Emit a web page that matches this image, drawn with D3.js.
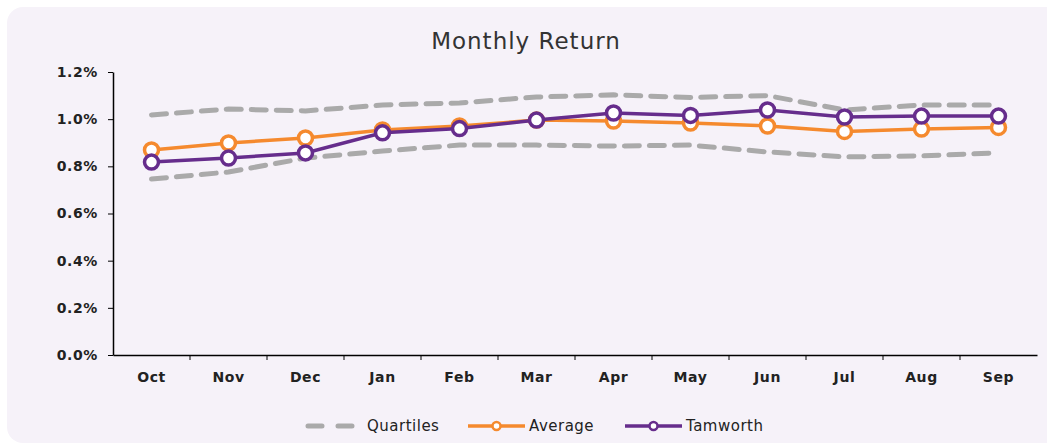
<!DOCTYPE html>
<html>
<head>
<meta charset="utf-8">
<script src="https://cdn.jsdelivr.net/npm/d3@7"></script>
<style>
  body { margin: 0; background: #fff; }
  svg { display: block; }
  text { font-family: "DejaVu Sans", Verdana, sans-serif; }
</style>
</head>
<body>
<svg id="chart" width="1047" height="445"></svg>
<script>
// months and values (monthly return, %)
const months = ['Oct', 'Nov', 'Dec', 'Jan', 'Feb', 'Mar', 'Apr', 'May', 'Jun', 'Jul', 'Aug', 'Sep']
const upperQuartile = [1.018, 1.043, 1.035, 1.06, 1.069, 1.094, 1.103, 1.092, 1.10, 1.039, 1.06, 1.06]
const lowerQuartile = [0.746, 0.776, 0.835, 0.865, 0.89, 0.89, 0.886, 0.89, 0.861, 0.84, 0.844, 0.857]
const average = [0.869, 0.899, 0.92, 0.954, 0.971, 0.996, 0.992, 0.984, 0.971, 0.948, 0.958, 0.965]
const tamworth = [0.818, 0.835, 0.857, 0.942, 0.96, 0.996, 1.026, 1.016, 1.039, 1.009, 1.013, 1.013]
const yTicks = [0, 0.2, 0.4, 0.6, 0.8, 1.0, 1.2]

const svg = d3.select('#chart')

// panel background
svg.append('rect')
  .attr('x', 7).attr('y', 7)
  .attr('width', 1060).attr('height', 436)
  .attr('rx', 16)
  .style('fill', '#f6f2f9')

svg.append('text')
  .attr('x', 526).attr('y', 49)
  .attr('text-anchor', 'middle')
  .style('font-size', '23px')
  .style('letter-spacing', '1px')
  .style('fill', '#333')
  .text('Monthly Return')

const x = d3.scaleBand().domain(months).range([113, 1037])
const y = d3.scaleLinear().domain([0, 1.2]).range([355, 72])
const cx = m => x(m) + x.bandwidth() / 2

// y axis
const yAxis = svg.append('g')
  .attr('transform', 'translate(113,0)')
  .call(d3.axisLeft(y).tickValues(yTicks).tickFormat(d => d.toFixed(1) + '%').tickSize(5).tickSizeOuter(0))
yAxis.select('.domain').style('stroke', '#000').style('stroke-width', 1.5)
yAxis.selectAll('.tick line').style('stroke', '#000')
yAxis.selectAll('text')
  .attr('x', -15)
  .style('font-size', '14px').style('font-weight', 'bold')
  .style('letter-spacing', '0.6px').style('fill', '#222')

// x axis, ticks on category boundaries
const xAxis = svg.append('g')
  .attr('transform', 'translate(0,355)')
  .call(d3.axisBottom(x).tickSize(0).tickSizeOuter(0))
xAxis.select('.domain').style('stroke', '#000').style('stroke-width', 1.5)
xAxis.selectAll('text')
  .attr('y', 17)
  .style('font-size', '14px').style('font-weight', 'bold')
  .style('letter-spacing', '0.6px').style('fill', '#222')
xAxis.selectAll('.boundary')
  .data(months.slice(1))
  .join('line')
  .attr('x1', d => x(d)).attr('x2', d => x(d))
  .attr('y1', 0).attr('y2', 5)
  .style('stroke', '#000')

const line = d3.line()
  .x((d, i) => cx(months[i]))
  .y(d => y(d))

// quartile bands
;[upperQuartile, lowerQuartile].forEach(q => {
  svg.append('path')
    .datum(q)
    .attr('d', line)
    .style('fill', 'none')
    .style('stroke', '#aaaaaa')
    .style('stroke-width', 5)
    .style('stroke-dasharray', '15 10')
    .style('stroke-linecap', 'round')
})

const series = [
  { name: 'Average', values: average, color: '#f58a2e' },
  { name: 'Tamworth', values: tamworth, color: '#662d8c' }
]

series.forEach(s => {
  svg.append('path')
    .datum(s.values)
    .attr('d', line)
    .style('fill', 'none')
    .style('stroke', s.color)
    .style('stroke-width', 3.5)

  svg.append('g')
    .selectAll('circle')
    .data(s.values)
    .join('circle')
    .attr('cx', (d, i) => cx(months[i]))
    .attr('cy', d => y(d))
    .attr('r', 7)
    .style('fill', '#fff')
    .style('stroke', s.color)
    .style('stroke-width', 3.5)
})

// legend
const legend = svg.append('g').attr('transform', 'translate(0,426)')
legend.append('line')
  .attr('x1', 306).attr('x2', 356)
  .style('stroke', '#aaaaaa').style('stroke-width', 5)
  .style('stroke-dasharray', '14 16')
  .style('stroke-linecap', 'round')
  .attr('transform', 'translate(2,0)')
legend.append('text').attr('x', 367).attr('y', 5).text('Quartiles')

const legendItems = [
  { name: 'Average', color: '#f58a2e', x1: 468, x2: 525 },
  { name: 'Tamworth', color: '#662d8c', x1: 625, x2: 682 }
]
legendItems.forEach(l => {
  legend.append('line')
    .attr('x1', l.x1).attr('x2', l.x2)
    .style('stroke', l.color).style('stroke-width', 3.5)
  legend.append('circle')
    .attr('cx', (l.x1 + l.x2) / 2).attr('r', 4)
    .style('fill', '#fff').style('stroke', l.color).style('stroke-width', 2.5)
  legend.append('text').attr('x', l.x2 + 4).attr('y', 5).text(l.name)
})
legend.selectAll('text')
  .style('font-size', '15px').style('letter-spacing', '0.5px').style('fill', '#222')
</script>
</body>
</html>
